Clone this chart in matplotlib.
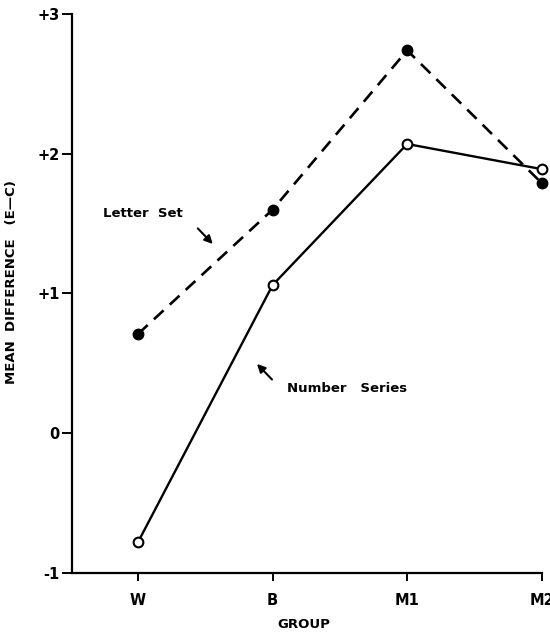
import matplotlib
matplotlib.use("Agg")
import matplotlib.pyplot as plt

groups = ["W", "B", "M1", "M2"]
letter_set = [0.71, 1.60, 2.74, 1.79]
number_series = [-0.78, 1.06, 2.07, 1.89]
yticks = [-1, 0, 1, 2, 3]
ytick_labels = ["-1", "0", "+1", "+2", "+3"]

plt.rcParams['font.family'] = ['DejaVu Sans']
plt.rcParams['font.weight'] = 'bold'

fig = plt.figure(figsize=(5.5, 6.38), dpi=100)
ax = fig.add_axes([0.131, 0.102, 0.854, 0.876])

x = list(range(len(groups)))
ax.plot(x, letter_set, color="black", lw=1.9, dashes=(5, 3.2),
        marker="o", ms=7.5, mfc="black", mec="black", clip_on=False, zorder=3)
ax.plot(x, number_series, color="black", lw=1.7, ls="-",
        marker="o", ms=7, mfc="white", mec="black", mew=1.5, clip_on=False, zorder=4)

ax.set_xlim(-0.49, 3.0)
ax.set_ylim(-1, 3)
ax.set_xticks(x)
ax.set_xticklabels(groups, fontsize=10.5, fontweight="bold")
ax.set_yticks(yticks)
ax.set_yticklabels(ytick_labels, fontsize=10.5, fontweight="bold")

for side in ["top", "right"]:
    ax.spines[side].set_visible(False)
for side in ["left", "bottom"]:
    ax.spines[side].set_linewidth(1.6)
ax.tick_params(axis="y", direction="out", length=7, width=1.4, pad=2)
ax.tick_params(axis="x", direction="out", length=5.5, width=1.4, pad=9)

# axis titles
fig.text(12 / 550, 1 - 282 / 638, "MEAN  DIFFERENCE   (E—C)", fontsize=9.5,
         fontweight="bold", rotation=90, ha="center", va="center")
fig.text(304 / 550, 1 - 625 / 638, "GROUP", fontsize=9.5,
         fontweight="bold", ha="center", va="center")

# annotations
ax.text(-0.26, 1.57, "Letter  Set", fontsize=9.5, fontweight="bold", va="center", ha="left")
ax.annotate("", xy=(0.57, 1.34), xytext=(0.43, 1.48),
            arrowprops=dict(arrowstyle="-|>", color="black", lw=1.5, mutation_scale=12))
ax.text(1.11, 0.32, "Number   Series", fontsize=9.5, fontweight="bold", va="center", ha="left")
ax.annotate("", xy=(0.87, 0.51), xytext=(1.01, 0.37),
            arrowprops=dict(arrowstyle="-|>", color="black", lw=1.5, mutation_scale=12))

fig.savefig("out.png", dpi=100)
